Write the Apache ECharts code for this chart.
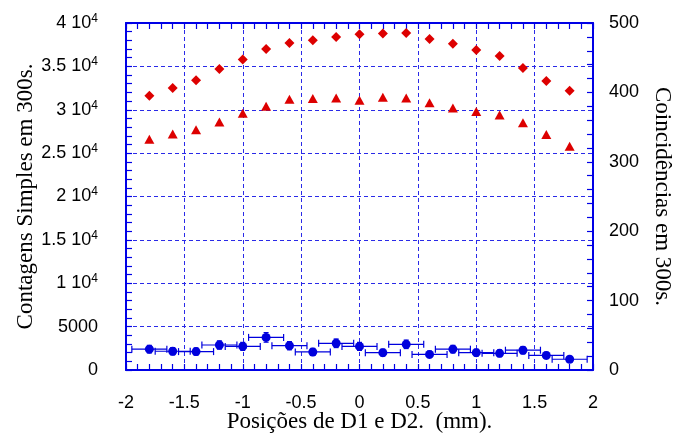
<!DOCTYPE html>
<html>
<head>
<meta charset="utf-8">
<script src="https://cdn.jsdelivr.net/npm/echarts@6/dist/echarts.min.js"></script>
<style>html,body{margin:0;padding:0;background:#fff;}#c{width:678px;height:437px;}</style>
</head>
<body>
<div id="c"></div>
<script>
const positions = [-1.8, -1.6, -1.4, -1.2, -1.0, -0.8, -0.6, -0.4, -0.2, 0, 0.2, 0.4, 0.6, 0.8, 1.0, 1.2, 1.4, 1.6, 1.8];
const singlesD1 = [31600, 32500, 33400, 34700, 35800, 37000, 37700, 38000, 38400, 38700, 38800, 38850, 38150, 37600, 36900, 36200, 34800, 33300, 32200];
const singlesD2 = [26600, 27200, 27700, 28600, 29600, 30400, 31200, 31300, 31350, 31100, 31450, 31350, 30800, 30200, 29800, 29400, 28500, 27150, 25800];
const coincidences = [30, 27, 26.5, 36, 34, 47, 35, 26, 38.5, 34, 25, 37, 22.5, 30, 25, 24, 28.5, 21, 15.5];
const posErr = [0.15, 0.15, 0.15, 0.15, 0.15, 0.15, 0.15, 0.15, 0.15, 0.15, 0.15, 0.15, 0.15, 0.15, 0.15, 0.15, 0.15, 0.15, 0.15];
const coincErr = [5.5, 5.2, 5.1, 6.0, 5.8, 6.9, 5.9, 5.1, 6.2, 5.8, 5.0, 6.1, 4.7, 5.5, 5.0, 4.9, 5.3, 4.6, 3.9];
const xTicks = [-2, -1.5, -1, -0.5, 0, 0.5, 1, 1.5, 2];

const blue = '#0000e6';
const gridBlue = '#2a2ae8';
const red = '#dd0000';
const dotBlue = '#0000dd';

const chart = echarts.init(document.getElementById('c'));

const diamondData = positions.map((x, i) => [x, singlesD1[i]]);
const triData = positions.map((x, i) => [x, singlesD2[i]]);
const coincData = positions.map((x, i) => [x, coincidences[i]]);
const errData = positions.map((x, i) => [x, coincidences[i], posErr[i], coincErr[i]]);

function leftFmt(v) {
  if (v === 0) return '0';
  if (v === 5000) return '5000';
  return (v / 10000) + ' 10{sup|4}';
}

const tickCommon = {show: true, inside: true, length: 6, lineStyle: {color: blue, width: 1.2}};
const minorCommon = {show: true, splitNumber: 5, length: 6, lineStyle: {color: blue, width: 1.2}};
const lineCommon = {show: true, onZero: false, lineStyle: {color: blue, width: 2}};
const labelFont = {fontFamily: 'Liberation Sans, Arial, sans-serif', fontSize: 18, color: '#000'};
const nameFont = {fontFamily: 'Liberation Serif, Times New Roman, serif', fontSize: 23, color: '#000'};

chart.setOption({
  animation: false,
  backgroundColor: '#fff',
  grid: {left: 126, right: 85, top: 23, bottom: 67, containLabel: false, outerBoundsMode: 'none'},
  xAxis: [
    {
      type: 'value', min: -2, max: 2, interval: 0.5, position: 'bottom',
      axisLine: lineCommon, axisTick: tickCommon, minorTick: minorCommon,
      axisLabel: Object.assign({margin: 24, formatter: v => String(v)}, labelFont),
      splitLine: {show: true, lineStyle: {color: gridBlue, type: [4, 3], width: 1}},
      name: 'Posições de D1 e D2.  (mm).', nameLocation: 'middle', nameGap: 40, nameMoveOverlap: false,
      nameTextStyle: nameFont
    },
    {
      type: 'value', min: -2, max: 2, interval: 0.5, position: 'top',
      axisLine: lineCommon, axisTick: tickCommon, minorTick: minorCommon,
      axisLabel: {show: false}, splitLine: {show: false}
    }
  ],
  yAxis: [
    {
      type: 'value', min: 0, max: 40000, interval: 5000, position: 'left',
      axisLine: lineCommon, axisTick: tickCommon, minorTick: minorCommon,
      axisLabel: Object.assign({margin: 28, formatter: leftFmt,
        rich: {
          sup: {fontFamily: 'Liberation Sans, Arial, sans-serif', fontSize: 12, color: '#000', verticalAlign: 'bottom', padding: [0, 0, 9, 0]}
        }}, labelFont),
      splitLine: {show: true, lineStyle: {color: gridBlue, type: [4, 3], width: 1}},
      name: 'Contagens Simples em 300s.', nameLocation: 'middle', nameGap: 89, nameRotate: 90, nameMoveOverlap: false,
      nameTextStyle: nameFont
    },
    {
      type: 'value', min: 0, max: 500, interval: 100, position: 'right',
      axisLine: lineCommon, axisTick: tickCommon, minorTick: minorCommon,
      axisLabel: Object.assign({margin: 16}, labelFont),
      splitLine: {show: false},
      name: 'Coincidências em 300s.', nameLocation: 'middle', nameGap: 58, nameRotate: -90, nameMoveOverlap: false,
      nameTextStyle: nameFont
    }
  ],
  series: [
    {
      type: 'scatter', xAxisIndex: 0, yAxisIndex: 0, data: diamondData,
      symbol: 'diamond', symbolSize: [10, 10], itemStyle: {color: red, opacity: 1}, z: 5
    },
    {
      type: 'scatter', xAxisIndex: 0, yAxisIndex: 0, data: triData,
      symbol: 'triangle', symbolSize: [10, 9], itemStyle: {color: red, opacity: 1}, z: 5
    },
    {
      type: 'custom', xAxisIndex: 0, yAxisIndex: 1, data: errData, z: 4,
      encode: {x: 0, y: 1},
      renderItem: function (params, api) {
        const x = api.value(0), y = api.value(1), xe = api.value(2), ye = api.value(3);
        const l = api.coord([x - xe, y]), r = api.coord([x + xe, y]);
        const t = api.coord([x, y + ye]), b = api.coord([x, y - ye]);
        const c = 3.5, cw = 2.5;
        const st = {stroke: dotBlue, lineWidth: 1.2};
        return {type: 'group', children: [
          {type: 'line', shape: {x1: l[0], y1: l[1], x2: r[0], y2: r[1]}, style: st},
          {type: 'line', shape: {x1: l[0], y1: l[1] - c, x2: l[0], y2: l[1] + c}, style: st},
          {type: 'line', shape: {x1: r[0], y1: r[1] - c, x2: r[0], y2: r[1] + c}, style: st},
          {type: 'line', shape: {x1: t[0], y1: t[1], x2: b[0], y2: b[1]}, style: st},
          {type: 'line', shape: {x1: t[0] - cw, y1: t[1], x2: t[0] + cw, y2: t[1]}, style: st},
          {type: 'line', shape: {x1: b[0] - cw, y1: b[1], x2: b[0] + cw, y2: b[1]}, style: st}
        ]};
      }
    },
    {
      type: 'scatter', xAxisIndex: 0, yAxisIndex: 1, data: coincData,
      symbol: 'circle', symbolSize: 9, itemStyle: {color: dotBlue, opacity: 1}, z: 6
    }
  ]
});
</script>
</body>
</html>
